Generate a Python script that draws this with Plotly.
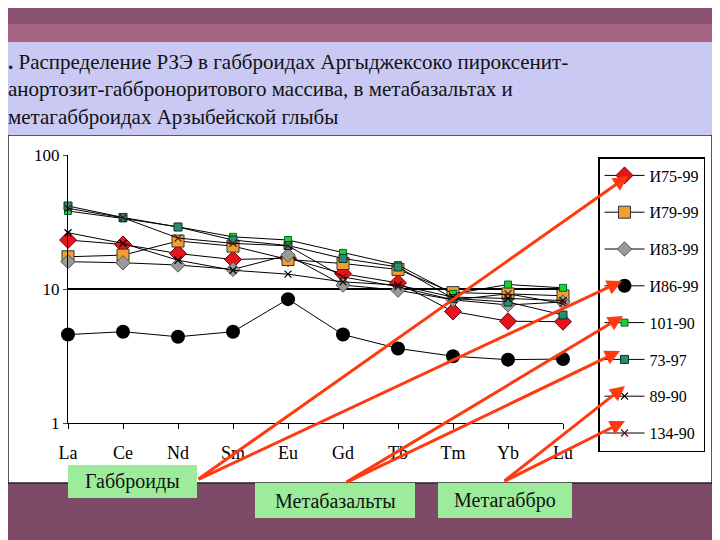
import plotly.graph_objects as go

W, H = 720, 540

elements = ["La", "Ce", "Nd", "Sm", "Eu", "Gd", "Tb", "Tm", "Yb", "Lu"]

i75_99 = [23.2, 21.5, 18.4, 16.6, 17.0, 13.0, 11.1, 6.8, 5.75, 5.7]
i79_99 = [17.4, 17.9, 22.8, 20.9, 16.6, 15.5, 14.0, 9.4, 9.2, 8.9]
i83_99 = [16.0, 15.7, 15.1, 14.0, 17.9, 10.7, 9.8, 8.3, 7.6, 8.0]
i86_99 = [4.57, 4.8, 4.4, 4.8, 8.4, 4.57, 3.6, 3.15, 2.97, 3.0]
s101_90 = [38.2, 33.6, 29.1, 24.5, 23.2, 18.6, 15.1, 9.2, 10.8, 10.2]
s73_97 = [41.6, 34.2, 29.0, 23.2, 21.1, 16.9, 14.6, 8.5, 8.0, 6.4]
s89_90 = [26.3, 21.9, 16.4, 13.8, 12.9, 11.3, 10.7, 8.7, 8.5, 8.2]
s134_90 = [40.0, 34.0, 24.0, 21.9, 21.0, 12.3, 10.4, 8.3, 9.2, 7.8]

series = [
    ("И75-99", i75_99, dict(symbol="diamond", size=13, color="#e8141c", line=dict(width=1, color="#600"))),
    ("И79-99", i79_99, dict(symbol="square", size=12, color="#f0a030", line=dict(width=1, color="#333"))),
    ("И83-99", i83_99, dict(symbol="diamond", size=11, color="#9a9a9a", line=dict(width=1, color="#555"))),
    ("И86-99", i86_99, dict(symbol="circle", size=14, color="black")),
    ("101-90", s101_90, dict(symbol="square", size=7, color="#22d022", line=dict(width=1, color="#064"))),
    ("73-97", s73_97, dict(symbol="square", size=8, color="#2e8b6e", line=dict(width=1, color="#033"))),
    ("89-90", s89_90, dict(symbol="x-thin", size=7, color="black", line=dict(width=1.2, color="black"))),
    ("134-90", s134_90, dict(symbol="x-thin", size=7, color="#7a2020", line=dict(width=1.2, color="#5a1010"))),
]

# page is drawn with an 8px body offset, so convert page pixels to paper coords
OFF = 8


def px(x):
    return (x - OFF) / W


def py(y):
    return 1 - (y - OFF) / H


fig = go.Figure()
for name, vals, marker in series:
    fig.add_trace(go.Scatter(
        x=elements, y=vals, name=name, mode="lines+markers",
        line=dict(color="black", width=1), marker=marker,
        cliponaxis=False, legendgroup=name,
    ))

serif = "'Liberation Serif'"

shapes = [
    # top gradient band and title box
    dict(type="rect", xref="paper", yref="paper", x0=0, x1=1, y0=py(42), y1=1,
         fillcolor="#a86484", line_width=0, layer="below"),
    dict(type="rect", xref="paper", yref="paper", x0=0, x1=1, y0=py(24), y1=1,
         fillcolor="#8a5070", line_width=0, layer="below"),
    dict(type="rect", xref="paper", yref="paper", x0=px(8), x1=px(712), y0=py(483), y1=py(135),
         fillcolor="white", line=dict(color="#222", width=1.5), layer="below"),
    dict(type="rect", xref="paper", yref="paper", x0=0, x1=1, y0=py(135), y1=py(42),
         fillcolor="#c9c9f3", line_width=0),
]

annotations = [
    dict(text="<b>.</b> Распределение РЗЭ в габброидах Аргыджексоко пироксенит-<br>"
              "анортозит-габброноритового массива, в метабазальтах и<br>"
              "метагабброидах Арзыбейской глыбы",
         xref="paper", yref="paper", x=px(6), y=py(48), xanchor="left", yanchor="top",
         align="left", showarrow=False, font=dict(family=serif, size=21, color="#111")),
]

labels = [("Габброиды", 68, 197, 465, 498), ("Метабазальты", 255, 415, 483, 518),
          ("Метагаббро", 438, 572, 483, 518)]
for t, x0, x1, y0, y1 in labels:
    shapes.append(dict(type="rect", xref="paper", yref="paper", x0=px(x0), x1=px(x1),
                       y0=py(y1), y1=py(y0), fillcolor="#9cec9c", line_width=0))
    annotations.append(dict(text=t, xref="paper", yref="paper", x=px((x0 + x1) / 2),
                            y=py((y0 + y1) / 2), xanchor="center", yanchor="middle",
                            showarrow=False,
                            font=dict(family=serif, size=20, color="#111")))

# red arrows from group labels to legend entries
arrows = [((197, 480), (628, 176)), ((197, 480), (622, 281)),
          ((345, 483), (623, 316)), ((345, 483), (620, 351)),
          ((503, 482), (625, 386)), ((503, 482), (625, 421))]
for (x0, y0), (x1, y1) in arrows:
    annotations.append(dict(
        x=px(x1), y=py(y1), ax=x0 - x1, ay=y0 - y1, xref="paper", yref="paper",
        axref="pixel", ayref="pixel", text="", showarrow=True, arrowhead=2,
        arrowsize=1, arrowwidth=3, arrowcolor="#ff3a10"))

fig.update_layout(
    width=W, height=H, margin=dict(l=0, r=0, t=0, b=0, autoexpand=False),
    paper_bgcolor="#7d4a67", plot_bgcolor="white",
    font=dict(family=serif),
    xaxis=dict(domain=[px(68), px(563)], range=[0, 9], type="category",
               showline=True, linecolor="black", ticks="outside", ticklen=5,
               tickcolor="black", showgrid=False, automargin=False,
               ticklabelstandoff=8,
               tickfont=dict(family=serif, size=18, color="black")),
    yaxis=dict(domain=[py(423), py(155)], type="log", range=[0, 2],
               tickvals=[1, 10, 100], ticktext=["1", "10", "100"],
               showline=True, linecolor="black", ticks="outside", ticklen=4,
               gridcolor="black", gridwidth=1.5, zeroline=False, automargin=False,
               tickfont=dict(family=serif, size=17, color="black")),
    showlegend=True,
    legend=dict(x=px(598), y=py(157), xanchor="left", yanchor="top",
                bgcolor="white", bordercolor="black", borderwidth=1.5,
                tracegroupgap=13, itemwidth=40,
                font=dict(family=serif, size=16, color="black")),
    shapes=shapes, annotations=annotations,
)

fig.write_html("out.html")
